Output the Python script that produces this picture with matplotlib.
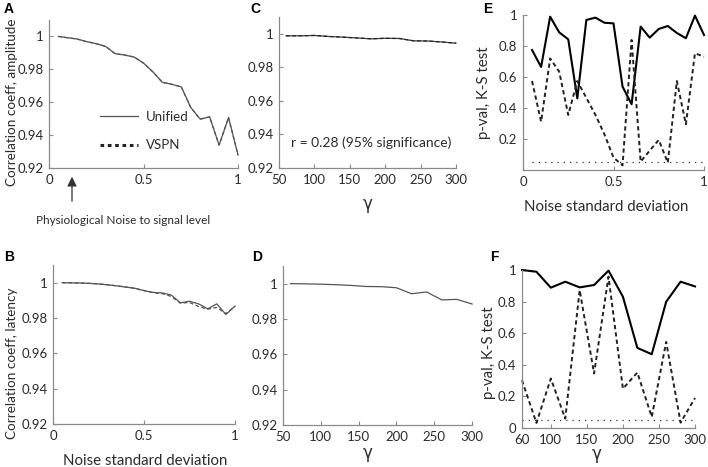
import matplotlib
matplotlib.use("Agg")
import matplotlib.pyplot as plt
from matplotlib.lines import Line2D
import numpy as np

plt.rcParams['font.family'] = ['Lato', 'DejaVu Sans']

# ---------------- data ----------------
noise_x = [0.05, 0.10, 0.15, 0.20, 0.25, 0.30, 0.35, 0.40, 0.45, 0.50,
           0.55, 0.60, 0.65, 0.70, 0.75, 0.80, 0.85, 0.90, 0.95, 1.00]
gamma_x = [60, 80, 100, 120, 140, 160, 180, 200, 220, 240, 260, 280, 300]

amp_unified = [1.000, 0.9992, 0.9984, 0.9968, 0.9956, 0.9939, 0.9895, 0.9887, 0.9875, 0.9838,
               0.9784, 0.9721, 0.9709, 0.9693, 0.9568, 0.9497, 0.9511, 0.9339, 0.9507, 0.9279]
amp_vspn = [1.000, 0.9992, 0.9984, 0.9968, 0.9956, 0.9939, 0.9895, 0.9887, 0.9875, 0.9838,
            0.9784, 0.9721, 0.9709, 0.9693, 0.9568, 0.9497, 0.9511, 0.9339, 0.9507, 0.9279]

lat_unified = [1.000, 0.9999, 0.9998, 0.9996, 0.9993, 0.9988, 0.9982, 0.9975, 0.9968, 0.9955,
               0.9945, 0.9942, 0.9930, 0.9886, 0.9895, 0.9880, 0.9852, 0.9880, 0.9820, 0.9867]
lat_vspn = [1.000, 0.9999, 0.9998, 0.9996, 0.9993, 0.9988, 0.9982, 0.9975, 0.9968, 0.9955,
            0.9943, 0.9938, 0.9922, 0.9884, 0.9888, 0.9865, 0.9850, 0.9860, 0.9825, 0.9867]

gamma_amp_unified = [0.9988, 0.9988, 0.9990, 0.9984, 0.9980, 0.9975, 0.9970, 0.9973, 0.9972,
                     0.9958, 0.9957, 0.9951, 0.9944]
gamma_amp_vspn = [0.9988, 0.9988, 0.9990, 0.9984, 0.9980, 0.9975, 0.9970, 0.9973, 0.9972,
                  0.9958, 0.9957, 0.9951, 0.9944]

gamma_lat_unified = [1.000, 0.9999, 0.9997, 0.9994, 0.9990, 0.9984, 0.9983, 0.9977, 0.9943,
                     0.9953, 0.9908, 0.9911, 0.9885]

ks_noise_unified = [0.774, 0.665, 0.989, 0.888, 0.843, 0.462, 0.968, 0.983, 0.950, 0.946,
                    0.538, 0.424, 0.925, 0.854, 0.910, 0.929, 0.884, 0.850, 0.996, 0.871]
ks_noise_vspn = [0.574, 0.312, 0.720, 0.634, 0.355, 0.574, 0.465, 0.356, 0.230, 0.080,
                 0.030, 0.839, 0.054, 0.125, 0.194, 0.047, 0.574, 0.295, 0.753, 0.731]

ks_gamma_unified = [1.000, 0.989, 0.888, 0.926, 0.890, 0.905, 0.996, 0.831, 0.507, 0.467,
                    0.799, 0.926, 0.896]
ks_gamma_vspn = [0.302, 0.032, 0.313, 0.059, 0.873, 0.345, 0.958, 0.249, 0.351, 0.070,
                 0.545, 0.034, 0.190]

sig_level = 0.05

corr_yticks = [0.92, 0.94, 0.96, 0.98, 1.0]
corr_yticklabels = ['0.92', '0.94', '0.96', '0.98', '1']
noise_xticks = [0, 0.5, 1]
noise_xticklabels = ['0', '0.5', '1']
gamma_xticks = [50, 100, 150, 200, 250, 300]
gamma_xticks_f = [60, 100, 150, 200, 250, 300]
p_yticks_e = [0.2, 0.4, 0.6, 0.8, 1.0]
p_yticklabels_e = ['0.2', '0.4', '0.6', '0.8', '1']
p_yticks_f = [0, 0.2, 0.4, 0.6, 0.8, 1.0]
p_yticklabels_f = ['0', '0.2', '0.4', '0.6', '0.8', '1']

# ---------------- style ----------------
W, H = 708, 467
fig = plt.figure(figsize=(W / 100, H / 100), dpi=100)

SPINE = '#8a8a8a'
TXT = '#2b2b2b'
THIN = '#555555'
TICK_FS = 9.5
LAB_FS = 10.8
YLAB_FS = 9.7


def px_axes(l, r, t, b):
    return fig.add_axes([l / W, 1 - b / H, (r - l) / W, (b - t) / H])


def style(ax):
    for s in ['top', 'right']:
        ax.spines[s].set_visible(False)
    for s in ['left', 'bottom']:
        ax.spines[s].set_color(SPINE)
        ax.spines[s].set_linewidth(0.9)
    ax.tick_params(direction='in', length=3, width=0.8, color=SPINE,
                   labelsize=TICK_FS, labelcolor=TXT, pad=4)


def letter(x, y, s):
    fig.text(x / W, 1 - y / H, s, fontsize=10, fontweight='bold', color='black',
             ha='left', va='top', family=['Liberation Sans', 'DejaVu Sans'])


# A
axA = px_axes(49, 238, 20, 168)
style(axA)
axA.plot(noise_x, amp_unified, color=THIN, lw=0.9)
axA.plot(noise_x, amp_vspn, color=THIN, lw=0.9, ls=(0, (3, 2)))
axA.set_xlim(0, 1)
axA.set_ylim(0.92, 1.01)
axA.set_xticks(noise_xticks, noise_xticklabels)
axA.set_yticks(corr_yticks, corr_yticklabels)
fig.text(12 / W, 1 - 102 / H, 'Correlation coeff, amplitude', rotation=90,
         ha='center', va='center', fontsize=YLAB_FS, color=TXT)
handles = [Line2D([], [], color=THIN, lw=0.9),
           Line2D([], [], color='#222222', lw=2.2, ls=(0, (1.2, 1.2)))]
axA.legend(handles, ['Unified', 'VSPN'], loc='center left', bbox_to_anchor=(0.233, 0.25),
           frameon=False, handlelength=2.9, handletextpad=0.6, labelspacing=1.25,
           fontsize=9.5, labelcolor=TXT, borderpad=0)
axA.annotate('', xy=(72 / W, 1 - 174 / H), xytext=(72 / W, 1 - 204 / H),
             xycoords='figure fraction',
             arrowprops=dict(arrowstyle='-|>', color='#333333', lw=0.9,
                             mutation_scale=14))
fig.text(123 / W, 1 - 220 / H, 'Physiological Noise to signal level', ha='center',
         va='center', fontsize=8.5, color=TXT)
letter(4, 2, 'A')

# B
axB = px_axes(53, 235, 265, 424)
style(axB)
axB.plot(noise_x, lat_vspn, color=THIN, lw=0.9, ls=(0, (3, 2)))
axB.plot(noise_x, lat_unified, color=THIN, lw=0.9)
axB.set_xlim(0, 1)
axB.set_ylim(0.92, 1.01)
axB.set_xticks(noise_xticks, noise_xticklabels)
axB.set_yticks(corr_yticks, corr_yticklabels)
fig.text(12 / W, 1 - 363 / H, 'Correlation coeff, latency', rotation=90,
         ha='center', va='center', fontsize=YLAB_FS, color=TXT)
fig.text(145 / W, 1 - 461 / H, 'Noise standard deviation', ha='center', va='center',
         fontsize=LAB_FS, color=TXT)
letter(4, 250, 'B')

# C
axC = px_axes(279, 456, 17, 168)
style(axC)
axC.plot(gamma_x, gamma_amp_unified, color='#444444', lw=0.9)
axC.plot(gamma_x, gamma_amp_vspn, color='#222222', lw=0.9, ls=(0, (3, 2)))
axC.set_xlim(50, 300)
axC.set_ylim(0.92, 1.01)
axC.set_xticks(gamma_xticks)
axC.set_yticks(corr_yticks, corr_yticklabels)
axC.text(0.52, 0.17, 'r = 0.28 (95% significance)', transform=axC.transAxes,
         ha='center', va='center', fontsize=10, color=TXT)
fig.text(368 / W, 1 - 204 / H, 'γ', ha='center', va='center', fontsize=12, color=TXT,
         family=['DejaVu Sans'])
letter(250, 2, 'C')

# D
axD = px_axes(283, 472, 266, 425)
style(axD)
axD.plot(gamma_x, gamma_lat_unified, color=THIN, lw=0.9)
axD.set_xlim(50, 300)
axD.set_ylim(0.92, 1.01)
axD.set_xticks(gamma_xticks)
axD.set_yticks(corr_yticks, corr_yticklabels)
fig.text(368 / W, 1 - 453 / H, 'γ', ha='center', va='center', fontsize=12, color=TXT,
         family=['DejaVu Sans'])
letter(252, 250, 'D')

# E
axE = px_axes(523, 704, 15, 170)
style(axE)
axE.plot(noise_x, ks_noise_unified, color='black', lw=1.5)
axE.plot(noise_x, ks_noise_vspn, color='#222222', lw=1.4, ls=(0, (2.2, 1.6)))
axE.plot([noise_x[0], noise_x[-1]], [sig_level, sig_level], color='#333333', lw=0.9,
         ls=(0, (1, 4)))
axE.set_xlim(0, 1)
axE.set_ylim(0, 1)
axE.set_xticks(noise_xticks, noise_xticklabels)
axE.set_yticks(p_yticks_e, p_yticklabels_e)
fig.text(484 / W, 1 - 93 / H, 'p-val, K-S test', rotation=90, ha='center', va='center',
         fontsize=LAB_FS, color=TXT)
fig.text(606 / W, 1 - 207 / H, 'Noise standard deviation', ha='center', va='center',
         fontsize=LAB_FS, color=TXT)
letter(483, 2, 'E')

# F
axF = px_axes(522, 695, 270, 428)
style(axF)
axF.plot(gamma_x, ks_gamma_unified, color='black', lw=1.5)
axF.plot(gamma_x, ks_gamma_vspn, color='#222222', lw=1.4, ls=(0, (2.2, 1.6)))
axF.plot([gamma_x[0], gamma_x[-1]], [sig_level, sig_level], color='#333333', lw=0.9,
         ls=(0, (1, 4)))
axF.set_xlim(60, 300)
axF.set_ylim(0, 1)
axF.set_xticks(gamma_xticks_f)
axF.set_yticks(p_yticks_f, p_yticklabels_f)
fig.text(489 / W, 1 - 353 / H, 'p-val, K-S test', rotation=90, ha='center', va='center',
         fontsize=LAB_FS, color=TXT)
fig.text(597 / W, 1 - 454 / H, 'γ', ha='center', va='center', fontsize=12, color=TXT,
         family=['DejaVu Sans'])
letter(490, 250, 'F')

for ax in [axA, axB, axC, axD, axE, axF]:
    for ln in ax.get_lines():
        ln.set_clip_on(False)

fig.savefig('out.png', dpi=100)
